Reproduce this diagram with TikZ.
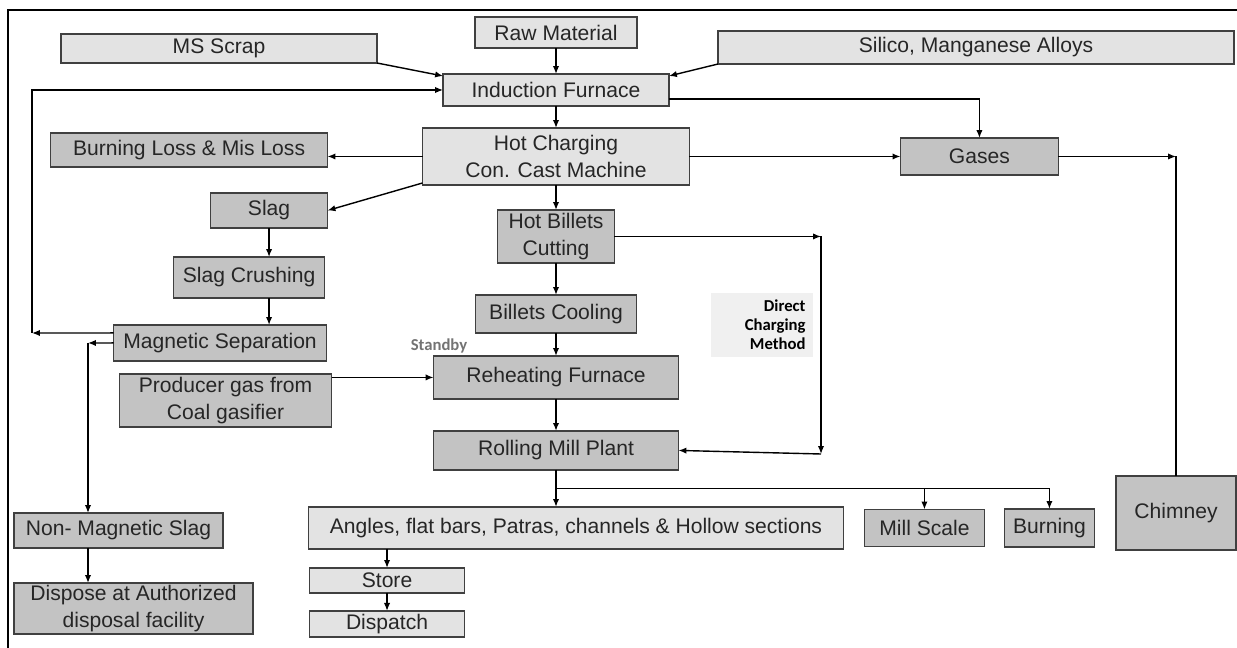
\documentclass[tikz,border=0pt]{standalone}
\usepackage{fontspec}
\setmainfont{Liberation Sans}
\newfontfamily\notefont{Carlito}
\usepackage{xcolor}
\usepackage{tikz}
\usetikzlibrary{arrows.meta, positioning, calc}

\definecolor{lightgrey}{HTML}{E3E3E3}
\definecolor{darkgrey}{HTML}{C3C3C3}
\definecolor{notegrey}{HTML}{F0F0F0}

\begin{document}
\begin{tikzpicture}[
    x=0.02cm, y=-0.02cm, line width=0.8pt,
    box/.style     = {draw=black!75, line width=0.8pt, inner sep=1pt, outer sep=0pt,
                      align=center, text=black!85, font=\fontsize{12}{15.5}\selectfont},
    lbox/.style    = {box, fill=lightgrey},
    dbox/.style    = {box, fill=darkgrey},
    note/.style    = {fill=notegrey, align=right, text width=1.74cm, inner xsep=0.15cm,
                      minimum height=1.28cm, font=\notefont\bfseries\fontsize{9.5}{10.8}\selectfont},
    arr/.style     = {-{Latex[length=4.5pt, width=3.6pt]}, line width=0.8pt},
  ]
  \useasboundingbox (0,0) rectangle (1237,648);
  \draw[line width=1.1pt] (8,648) -- (8,10) -- (1237,10);

  \node[lbox, minimum width=4.52cm, minimum height=0.64cm] (ind) at (556,90) {Induction Furnace};
  \node[lbox, minimum width=3.24cm, minimum height=0.62cm, above=0.52cm of ind] (raw) {Raw Material};
  \node[lbox, minimum width=6.32cm, minimum height=0.58cm] (ms) at (219,48.5) {MS Scrap};
  \node[lbox, minimum width=10.32cm, minimum height=0.66cm] (sil) at (976,47.5) {Silico, Manganese Alloys};
  \node[lbox, minimum width=5.34cm, minimum height=1.14cm, below=0.44cm of ind] (hcm) {Hot Charging\\Con. Cast Machine};
  \node[dbox, minimum width=2.34cm, minimum height=1.06cm, below=0.5cm of hcm] (hbc) {Hot Billets\\Cutting};
  \node[dbox, minimum width=3.22cm, minimum height=0.76cm, below=0.64cm of hbc] (cool) {Billets Cooling};
  \node[dbox, minimum width=4.9cm, minimum height=0.86cm, below=0.46cm of cool] (reh) {Reheating Furnace};
  \node[dbox, minimum width=4.9cm, minimum height=0.78cm, below=0.64cm of reh] (rmp) {Rolling Mill Plant};
  \node[lbox, minimum width=10.7cm, minimum height=0.84cm, below=0.74cm of rmp, xshift=0.4cm] (ang) {Angles, flat bars, Patras, channels \& Hollow sections};
  \node[lbox, minimum width=3.1cm, minimum height=0.5cm, below right=0.38cm and 0.02cm of ang.south west] (store) {Store};
  \node[lbox, minimum width=3.1cm, minimum height=0.52cm, below=0.36cm of store] (disp) {Dispatch};
  \node[dbox, minimum width=2.4cm, minimum height=0.74cm, right=0.42cm of ang] (mill) {Mill Scale};
  \node[dbox, minimum width=1.8cm, minimum height=0.76cm, right=0.4cm of mill] (burn) {Burning};
  \node[dbox, minimum width=3.16cm, minimum height=0.74cm, right=4.22cm of hcm] (gas) {Gases};
  \node[dbox, minimum width=2.4cm, minimum height=1.48cm] (chim) at (1176,513) {Chimney};
  \node[dbox, minimum width=5.54cm, minimum height=0.68cm, left=1.9cm of hcm, yshift=0.13cm] (loss) {Burning Loss \& Mis Loss};
  \node[dbox, minimum width=2.34cm, minimum height=0.7cm, below left=0.52cm and 0cm of loss.south east] (slag) {Slag};
  \node[dbox, minimum width=3.02cm, minimum height=0.82cm, below=0.58cm of slag, xshift=-0.4cm] (crush) {Slag Crushing};
  \node[dbox, minimum width=4.26cm, minimum height=0.72cm, below left=0.54cm and -0.04cm of crush.south east] (magsep) {Magnetic Separation};
  \node[dbox, minimum width=4.24cm, minimum height=1.06cm, below=0.26cm of magsep, xshift=0.11cm] (prod) {Producer gas from\\Coal gasifier};
  \node[dbox, minimum width=4.18cm, minimum height=0.7cm] (nonmag) at (118.5,530.5) {Non- Magnetic Slag};
  \node[dbox, minimum width=4.78cm, minimum height=1.02cm, below right=0.7cm and 0cm of nonmag.south west] (dispose) {Dispose at Authorized\\disposal facility};
  \node[note] (direct) at (762,325) {Direct\\Charging\\Method};
  \node[text=black!55, font=\notefont\bfseries\fontsize{9.5}{11}\selectfont] (stby) at (439,346) {Standby};

  \coordinate (fb1) at (32,333);
  \coordinate (fb2) at (88,343);
  \coordinate (dc) at (821,454);
  \coordinate (br) at ($(rmp.south)!0.5!(rmp.south |- ang.north)$);

  \draw[arr] (raw) -- (ind);
  \draw[arr] (ms.south east) -- ([yshift=-0.04cm]ind.north west);
  \draw[arr] (sil.south west) -- ([yshift=-0.04cm]ind.north east);
  \draw[arr] (ind) -- (hcm);
  \draw[arr] (hcm.west) -- (hcm.west -| loss.east);
  \draw[arr] ([yshift=0.04cm]hcm.south west) -- (slag.east);
  \draw[arr] (hcm) -- (hbc);
  \draw[arr] (hbc) -- (cool);
  \draw[arr] (cool) -- (reh);
  \draw[arr, line width=1.3pt] (reh) -- (rmp);
  \draw[arr] (hbc.east) -- (hbc.east -| dc);
  \draw[arr] (hbc.east -| dc) -- (dc);
  \draw[arr] (dc) -- (rmp.east);
  \draw[arr] (reh.west -| prod.east) -- (reh.west);
  \draw[arr] ([yshift=-0.18cm]ind.east) -| (gas.north);
  \draw[arr] (hcm.east) -- (gas.west);
  \draw[arr] (gas.east) -- (gas.east -| chim.north);
  \draw (gas.east -| chim.north) -- (chim.north);
  \draw[arr] (slag.south) -- (slag.south |- crush.north);
  \draw[arr] (slag.south |- crush.south) -- (slag.south |- magsep.north);
  \draw[arr] ([yshift=0.2cm]magsep.west) -- (fb1);
  \draw[arr] (fb1) |- (ind.west);
  \draw[arr] (magsep.west) -- (fb2);
  \draw[arr] (fb2) -- (fb2 |- nonmag.north);
  \draw[arr] (fb2 |- nonmag.south) -- (fb2 |- dispose.north);
  \draw[arr, line width=1.2pt] (rmp.south) -- (rmp.south |- ang.north);
  \draw[arr] (br) -| (burn.north);
  \draw[arr] (br -| mill.north) -- (mill.north);
  \draw[arr] (store.north |- ang.south) -- (store.north);
  \draw[arr] (store) -- (disp);
\end{tikzpicture}
\end{document}
